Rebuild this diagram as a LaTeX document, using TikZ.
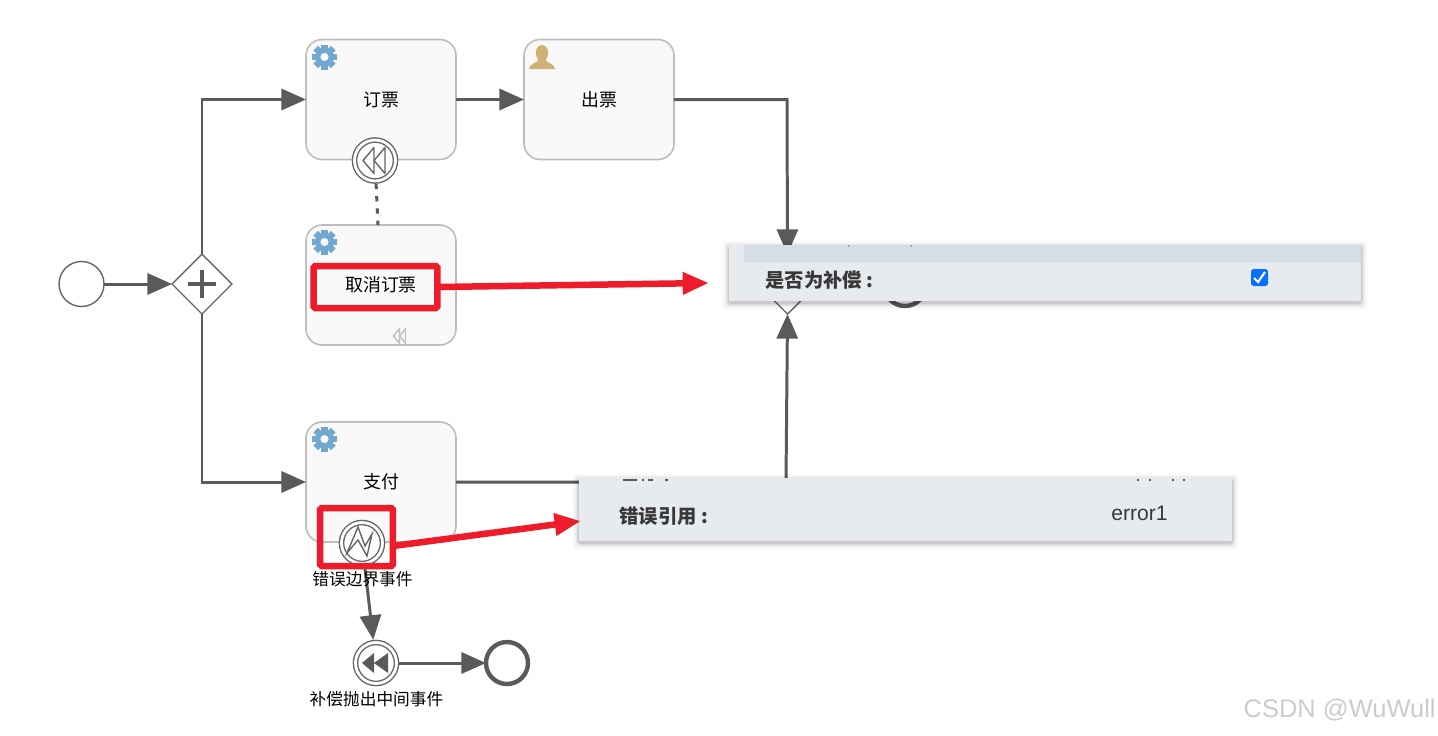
\documentclass[tikz,border=0pt]{standalone}
\usepackage{fontspec}
\setmainfont{Liberation Sans}
\newfontfamily\cjk{Noto Sans CJK SC}
\usetikzlibrary{arrows.meta,calc,shapes.geometric}
\definecolor{flowgray}{HTML}{5A5A5A}
\definecolor{eventgray}{HTML}{666666}
\definecolor{taskline}{HTML}{BDBDBD}
\definecolor{taskfill}{HTML}{F9F9F9}
\definecolor{gearblue}{HTML}{72A7D0}
\definecolor{usertan}{HTML}{CDB274}
\definecolor{markred}{HTML}{EE1C2A}
\definecolor{panelfill}{HTML}{E7EBF0}
\definecolor{panelstrip}{HTML}{D5DDE6}
\definecolor{checkblue}{HTML}{0B6FFD}
\tikzset{
  flow/.style={line width=1.7pt,flowgray,-{Triangle[length=14pt,width=12pt]}},
  task/.style={draw=taskline,fill=taskfill,line width=0.9pt,rounded corners=0.32cm,outer sep=0pt,
    minimum width=3cm,minimum height=2.4cm,inner sep=0pt,font=\cjk\fontsize{10.2pt}{12pt}\selectfont},
  plainev/.style={circle,draw=eventgray,fill=white,line width=0.8pt,minimum size=0.9cm,inner sep=0pt,outer sep=0pt},
  twoev/.style={plainev,minimum size=0.82cm,double=white,double distance=1.6pt,outer sep=1.6pt},
  endev/.style={circle,draw=flowgray,fill=white,line width=2.5pt,minimum size=0.84cm,inner sep=0pt,outer sep=0pt},
  gateway/.style={diamond,draw=eventgray,fill=white,line width=0.8pt,minimum size=1.2cm,inner sep=0pt,outer sep=0pt,aspect=1},
  evlabel/.style={font=\cjk\fontsize{9.5pt}{11pt}\selectfont,inner sep=0pt},
  paneltext/.style={font=\cjk\bfseries\fontsize{11pt}{13pt}\selectfont,text=black!78,anchor=west,inner sep=0pt},
  panel/.style={fill=panelfill,inner sep=0pt,outer sep=0pt,anchor=north west},
  redbox/.style={draw=markred,line width=3.7pt,rounded corners=1pt,inner sep=0pt,outer sep=0pt},
  redflow/.style={line width=3.7pt,markred,-{Triangle[length=15pt,width=12pt]}},
  pics/gear/.style={code={
    \foreach \a in {0,45,...,315}
      \fill[gearblue,rotate=\a] (-3.2,-12.5) rectangle (3.2,-8);
    \fill[gearblue,even odd rule] (0,0) circle (9.2) (0,0) circle (4.2);
  }},
  pics/rewind/.style={code={
    \draw[#1,line join=round] (-12,0) -- (-1,-13) -- (-1,13) -- cycle;
    \draw[#1,line join=round] (-1,0) -- (10,-13) -- (10,13) -- cycle;
  }},
}
\begin{document}
\begin{tikzpicture}[x=0.02cm,y=-0.02cm,line cap=butt,line join=miter]
  \useasboundingbox[fill=white] (0,0) rectangle (1438,735);
  % tasks
  \node[task] (taskbook) at (381,99.5) {订票};
  \node[task] (taskissue) at (599,99.5) {出票};
  \node[task] (taskcancel) at (381,285) {取消订票};
  \node[task] (taskpay) at (381,482) {支付};
  \pic at (324.5,57) {gear};
  \pic at (324.5,242) {gear};
  \pic at (324.5,439) {gear};
  \fill[usertan] (529,69) .. controls (529,64) and (537,63) .. (538.5,60)
    .. controls (534,54) and (535,46) .. (542,45)
    .. controls (549,46) and (550,54) .. (545.5,60)
    .. controls (547,63) and (555,64) .. (555,69) -- cycle;
  \pic at (400,336) {rewind={taskline,line width=0.8pt,scale=0.55}};
  % events and gateways
  \node[plainev] (startev) at (81.5,284) {};
  \node[gateway] (gatefork) at (202,284) {};
  \draw[line width=2.2pt,flowgray] (188,284) -- (216,284) (202,270) -- (202,298);
  \node[gateway] (gatejoin) at (787.5,284) {};
  \node[endev] (endmain) at (905,285) {};
  \node[twoev] (compbound) at (375,160.5) {};
  \pic at (375,160.5) {rewind={eventgray,line width=0.8pt}};
  \node[twoev] (errbound) at (362,543) {};
  \draw[eventgray,line width=0.8pt] (347,553) -- (358,527) -- (365,546) -- (372,534) -- (367,556) -- (358,540) -- cycle;
  \node[twoev] (compthrow) at (376,663) {};
  \fill[flowgray] (362,663) -- (374,653) -- (374,673) -- cycle (374,663) -- (388,653) -- (388,673) -- cycle;
  \node[endev] (endthrow) at (507,663) {};
  % sequence flows
  \coordinate (bendissue) at (787,99.5);
  \coordinate (bendpay) at (786,482);
  \draw[flow] (startev) -- (gatefork);
  \draw[flow] (gatefork) |- (taskbook);
  \draw[flow] (gatefork) |- (taskpay);
  \draw[flow] (taskbook) -- (taskissue);
  \draw[flow] (taskissue) -- (bendissue) -- (gatejoin.north);
  \draw[flow] (taskpay) -- (bendpay) -- (gatejoin.south);
  \draw[flow] (compthrow) -- (endthrow);
  \draw[flowgray,line width=1.7pt] (gatejoin) -- (endmain);
  \draw[flow] (errbound) -- (compthrow);
  \draw[flowgray,line width=1.7pt,dash pattern=on 3pt off 4pt] (compbound) -- ([xshift=-0.06cm]taskcancel.north);
  \node[evlabel] (errlabel) at (362.5,579) {错误边界事件};
  \node[evlabel] (throwlabel) at (376.5,699) {补偿抛出中间事件};
  % panels
  \foreach \s/\o in {1/.07,2/.05,3/.035,4/.025,5/.015,6/.01,7/.006}
    \fill[black,opacity=\o,rounded corners=2pt] (729-\s,245-\s+2) rectangle (1361+\s,301+\s+2);
  \node[panel,minimum width=12.64cm,minimum height=1.12cm] (panelcomp) at (729,245) {};
  \fill[panelstrip] (744,245) rectangle (1361,262);
  \foreach \m in {848,910}
    \fill[black!35] (\m,245) rectangle ++(2,1.5);
  \node[paneltext] (compname) at (765,280) {是否为补偿 :};
  \node[fill=checkblue,rounded corners=1.5pt,minimum size=0.34cm,inner sep=0pt] (compcheck) at (1259.5,277.5) {};
  \draw[white,line width=1.2pt] (1254,278) -- (1258,282) -- (1265,272);
  \foreach \s/\o in {1/.07,2/.05,3/.035,4/.025,5/.015,6/.01,7/.006}
    \fill[black,opacity=\o,rounded corners=2pt] (579-\s,478-\s+2) rectangle (1232+\s,541+\s+2);
  \node[panel,minimum width=13.06cm,minimum height=1.26cm] (panelerr) at (579,478) {};
  \foreach \m/\w in {623/14,642/2,648/5,665/3,1137/1.5,1149/1.5,1172/1.5,1183/1.5}
    \fill[black!65] (\m,478.5) rectangle ++(\w,2.5);
  \node[paneltext] (errname) at (619,516) {错误引用 :};
  \node[text=black!78,font=\fontsize{12pt}{14pt}\selectfont,anchor=west,inner sep=0pt] (errvalue) at (1111,513) {error1};
  % red marks
  \node[redbox,minimum width=2.48cm,minimum height=0.84cm] (markcancel) at (375.5,287) {};
  \node[redbox,minimum width=1.46cm,minimum height=1.16cm] (markerr) at (356.5,537) {};
  \coordinate (tipcomp) at (709,283);
  \coordinate (tiperr) at (581,521);
  \draw[redflow] (markcancel.east) -- (tipcomp);
  \draw[redflow] ([yshift=-0.18cm]markerr.east) -- (tiperr);
  \node[text=black!20,font=\fontsize{14.5pt}{16pt}\selectfont,anchor=east,inner sep=0pt] (watermark) at (1436,710) {CSDN @WuWull};
\end{tikzpicture}
\end{document}
